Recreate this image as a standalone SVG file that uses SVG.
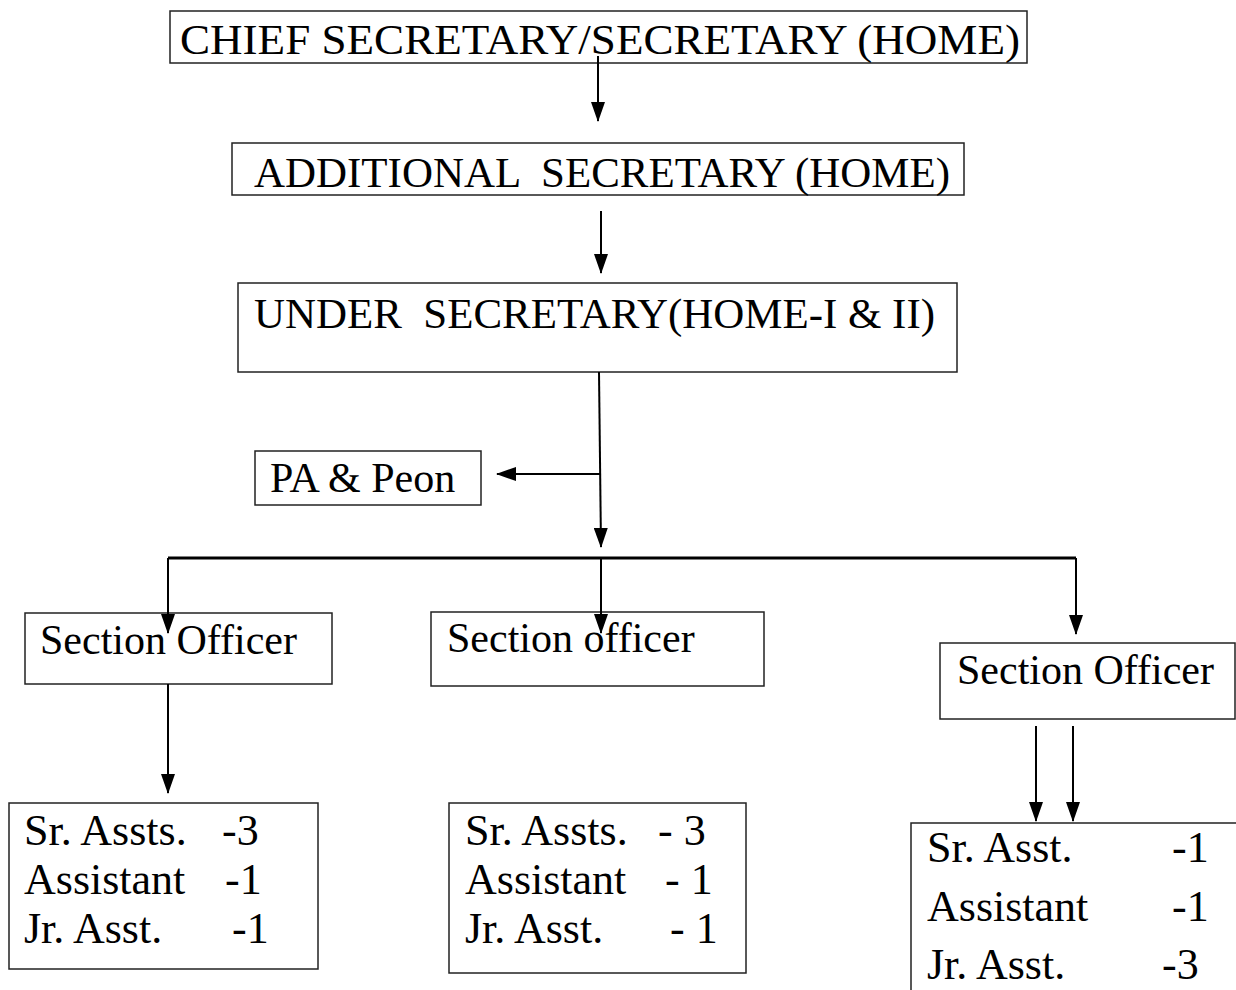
<svg xmlns="http://www.w3.org/2000/svg" width="1236" height="990" viewBox="0 0 1236 990">
<style>
  .box { fill: #fff; stroke: #222; stroke-width: 1.5; }
  .t { font-family: 'Liberation Serif', 'DejaVu Serif', serif; font-size: 42px; fill: #000; }
  .s { font-family: 'Liberation Serif', 'DejaVu Serif', serif; font-size: 44px; fill: #000; }
  .c { stroke: #000; stroke-width: 2; fill: none; }
  .bus { stroke: #000; stroke-width: 3; fill: none; }
</style>
<defs>
  <marker id="ah" markerUnits="userSpaceOnUse" markerWidth="20" markerHeight="14" refX="19" refY="7" viewBox="0 0 20 14" orient="auto">
    <path d="M0,0 L20,7 L0,14 Z" fill="#000"/>
  </marker>
</defs>
<rect width="1236" height="990" fill="#fff"/>

<g id="chief">
  <rect class="box" x="170" y="11" width="857" height="52"/>
  <text class="t" x="180" y="54" font-size="45" textLength="840" lengthAdjust="spacingAndGlyphs">CHIEF SECRETARY/SECRETARY (HOME)</text>
</g>
<g id="additional">
  <rect class="box" x="232" y="143" width="732" height="52"/>
  <text class="t" x="254" y="187" textLength="696" lengthAdjust="spacingAndGlyphs" xml:space="preserve">ADDITIONAL  SECRETARY (HOME)</text>
</g>
<g id="under">
  <rect class="box" x="238" y="283" width="719" height="89"/>
  <text class="t" x="254" y="328" textLength="681" lengthAdjust="spacingAndGlyphs" xml:space="preserve">UNDER  SECRETARY(HOME-I &amp; II)</text>
</g>
<g id="pa">
  <rect class="box" x="255" y="451" width="226" height="54"/>
  <text class="t" x="270" y="492">PA &amp; Peon</text>
</g>
<g id="so1">
  <rect class="box" x="25" y="613" width="307" height="71"/>
  <text class="t" x="40" y="654">Section Officer</text>
</g>
<g id="so2">
  <rect class="box" x="431" y="612" width="333" height="74"/>
  <text class="t" x="447" y="652">Section officer</text>
</g>
<g id="so3">
  <rect class="box" x="940" y="643" width="295" height="76"/>
  <text class="t" x="957" y="684">Section Officer</text>
</g>
<g id="staff1">
  <rect class="box" x="9" y="803" width="309" height="166"/>
  <text class="s" x="24" y="845">Sr. Assts.<tspan x="222">-3</tspan></text>
  <text class="s" x="24" y="894">Assistant<tspan x="225">-1</tspan></text>
  <text class="s" x="24" y="943">Jr. Asst.<tspan x="232">-1</tspan></text>
</g>
<g id="staff2">
  <rect class="box" x="449" y="803" width="297" height="170"/>
  <text class="s" x="465" y="845">Sr. Assts.<tspan x="658">- 3</tspan></text>
  <text class="s" x="465" y="894">Assistant<tspan x="665">- 1</tspan></text>
  <text class="s" x="465" y="943">Jr. Asst.<tspan x="670">- 1</tspan></text>
</g>
<g id="staff3">
  <rect class="box" x="911" y="823" width="330" height="180"/>
  <text class="s" x="927" y="862">Sr. Asst.<tspan x="1172">-1</tspan></text>
  <text class="s" x="927" y="921">Assistant<tspan x="1172">-1</tspan></text>
  <text class="s" x="927" y="979">Jr. Asst.<tspan x="1162">-3</tspan></text>
</g>

<g id="connectors">
  <line class="c" x1="598" y1="56" x2="598" y2="121" marker-end="url(#ah)"/>
  <line class="c" x1="601" y1="211" x2="601" y2="273" marker-end="url(#ah)"/>
  <line class="c" x1="599" y1="372" x2="601" y2="547" marker-end="url(#ah)"/>
  <line class="c" x1="600" y1="474" x2="497" y2="474" marker-end="url(#ah)"/>
  <path class="bus" d="M168,558 H1076"/>
  <line class="c" x1="168" y1="558" x2="168" y2="633" marker-end="url(#ah)"/>
  <line class="c" x1="601" y1="558" x2="601" y2="633" marker-end="url(#ah)"/>
  <line class="c" x1="1076" y1="558" x2="1076" y2="634" marker-end="url(#ah)"/>
  <line class="c" x1="168" y1="684" x2="168" y2="793" marker-end="url(#ah)"/>
  <line class="c" x1="1036" y1="726" x2="1036" y2="821" marker-end="url(#ah)"/>
  <line class="c" x1="1073" y1="726" x2="1073" y2="821" marker-end="url(#ah)"/>
</g>
</svg>
